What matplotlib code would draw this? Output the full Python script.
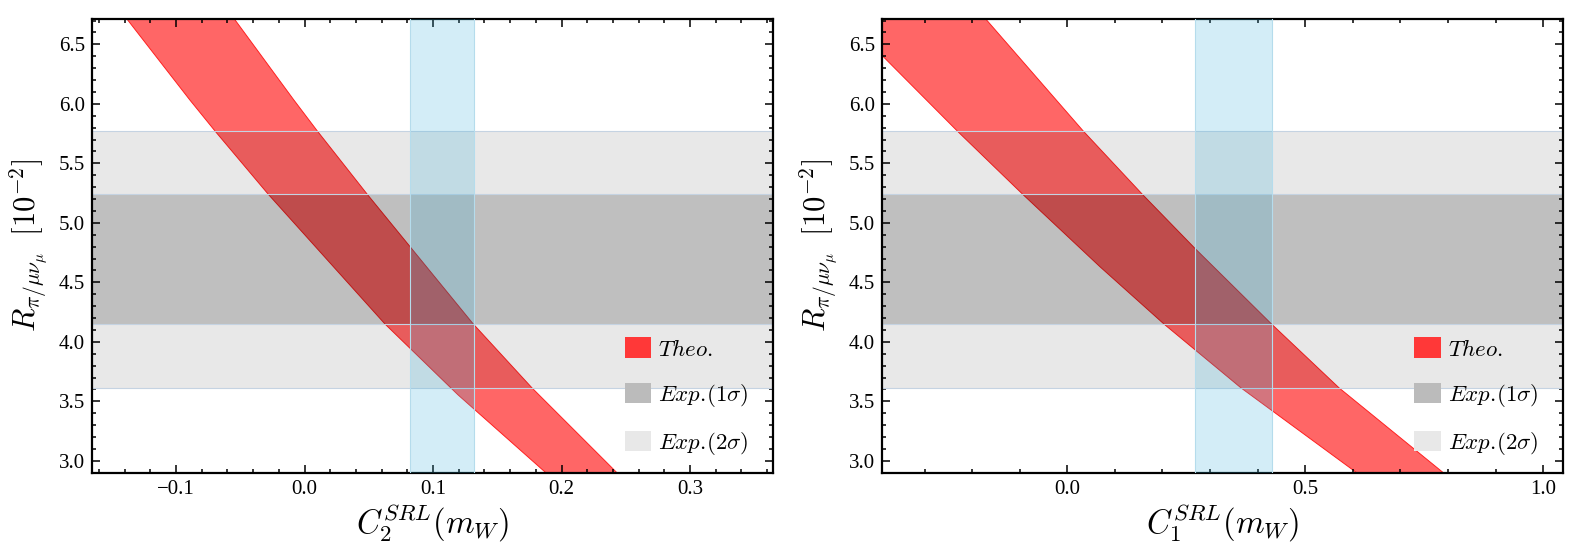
import numpy as np
import matplotlib
matplotlib.use("Agg")
import matplotlib.pyplot as plt
from matplotlib.patches import Patch
from matplotlib.ticker import MultipleLocator, FuncFormatter

plt.rcParams["mathtext.fontset"] = "cm"
plt.rcParams["font.family"] = ["Liberation Serif", "DejaVu Serif"]

# experimental bands on R (in units of 1e-2)
exp_1sigma = (4.15, 5.24)
exp_2sigma = (3.613, 5.771)

# panel 1: C2^SRL(mW), red band boundaries
c2_lo_x = [-0.1380, -0.0892, -0.0696, -0.0282, 0.0626, 0.1194, 0.1878]
c2_lo_y = [6.71, 6.032, 5.771, 5.24, 4.15, 3.555, 2.90]
c2_hi_x = [-0.0544, -0.0083, 0.0100, 0.0488, 0.1313, 0.1770, 0.2431]
c2_hi_y = [6.71, 6.032, 5.771, 5.24, 4.15, 3.613, 2.90]
c2_allowed = (0.082, 0.132)

# panel 2: C1^SRL(mW)
c1_lo_x = [-0.465, -0.390, -0.231, -0.0937, 0.0687, 0.203, 0.365, 0.608]
c1_lo_y = [6.71, 6.41, 5.771, 5.24, 4.631, 4.15, 3.613, 2.90]
c1_hi_x = [-0.1708, 0.0336, 0.1576, 0.268, 0.429, 0.571, 0.790]
c1_hi_y = [6.71, 5.771, 5.24, 4.786, 4.15, 3.613, 2.90]
c1_allowed = (0.268, 0.431)

panels = [
    dict(lo=(c2_lo_x, c2_lo_y), hi=(c2_hi_x, c2_hi_y), band=c2_allowed,
         xlim=(-0.1654, 0.3646), major=0.1, minor=0.02,
         xlabel=r"$C_2^{SRL}(m_W)$", left=92),
    dict(lo=(c1_lo_x, c1_lo_y), hi=(c1_hi_x, c1_hi_y), band=c1_allowed,
         xlim=(-0.390, 1.041), major=0.5, minor=0.1,
         xlabel=r"$C_1^{SRL}(m_W)$", left=881.7),
]

fmt = FuncFormatter(lambda v, pos: f"{v:.1f}".replace("-", "\u2212"))

W, H = 1578, 557
fig = plt.figure(figsize=(W / 100, H / 100), dpi=100)

for p in panels:
    ax = fig.add_axes([p["left"] / W, (H - 472.7) / H, 681 / W, (472.7 - 19) / H])

    # theory band
    lx, ly = p["lo"]
    hx, hy = p["hi"]
    ax.fill(np.r_[lx, hx[::-1]], np.r_[ly, hy[::-1]], color="#ff6666", lw=0, zorder=1)
    ax.plot(lx, ly, color="#ff2020", lw=0.7, zorder=1.5)
    ax.plot(hx, hy, color="#ff2020", lw=0.7, zorder=1.5)

    # experimental bands drawn on top
    ax.axhspan(*exp_2sigma, facecolor="black", alpha=0.09, lw=0, zorder=2)
    ax.axhspan(*exp_1sigma, facecolor="black", alpha=0.1724, lw=0, zorder=2.1)
    for yv in exp_2sigma + exp_1sigma:
        ax.axhline(yv, color="#c5d3e2", lw=0.8, zorder=2.2)

    # allowed region
    ax.axvspan(*p["band"], facecolor="#36b0da", alpha=0.214, lw=0, zorder=3)
    for xv in p["band"]:
        ax.axvline(xv, color="#b5dcec", lw=0.8, zorder=3.1)

    ax.set_xlim(*p["xlim"])
    ax.set_ylim(2.90, 6.713)
    ax.xaxis.set_major_locator(MultipleLocator(p["major"]))
    ax.xaxis.set_minor_locator(MultipleLocator(p["minor"]))
    ax.yaxis.set_major_locator(MultipleLocator(0.5))
    ax.yaxis.set_minor_locator(MultipleLocator(0.1))
    ax.xaxis.set_major_formatter(fmt)
    ax.yaxis.set_major_formatter(fmt)
    ax.tick_params(which="both", direction="in", top=True, right=True, width=1.1)
    ax.tick_params(which="major", length=5.5, labelsize=15, pad=5)
    ax.tick_params(which="minor", length=3)
    for s in ax.spines.values():
        s.set_linewidth(1.6)

    ax.set_xlabel(p["xlabel"], fontsize=23.5, labelpad=3)
    ax.set_ylabel(r"$R_{\pi/\mu\nu_\mu}\;\;[10^{-2}]$", fontsize=22, labelpad=6)

    handles = [Patch(facecolor="#ff3838", edgecolor="none"),
               Patch(facecolor="#bbbbbb", edgecolor="none"),
               Patch(facecolor="#e8e8e8", edgecolor="none")]
    labels = [r"$Theo.$", r"$Exp.\!(1\sigma)$", r"$Exp.\!(2\sigma)$"]
    ax.legend(handles, labels, loc="upper left", bbox_to_anchor=(0.782, 0.298),
              frameon=False, fontsize=16.5, borderpad=0, borderaxespad=0,
              handlelength=1.15, handleheight=1.02, labelspacing=0.92,
              handletextpad=0.33)

fig.savefig("out.png", dpi=100)
